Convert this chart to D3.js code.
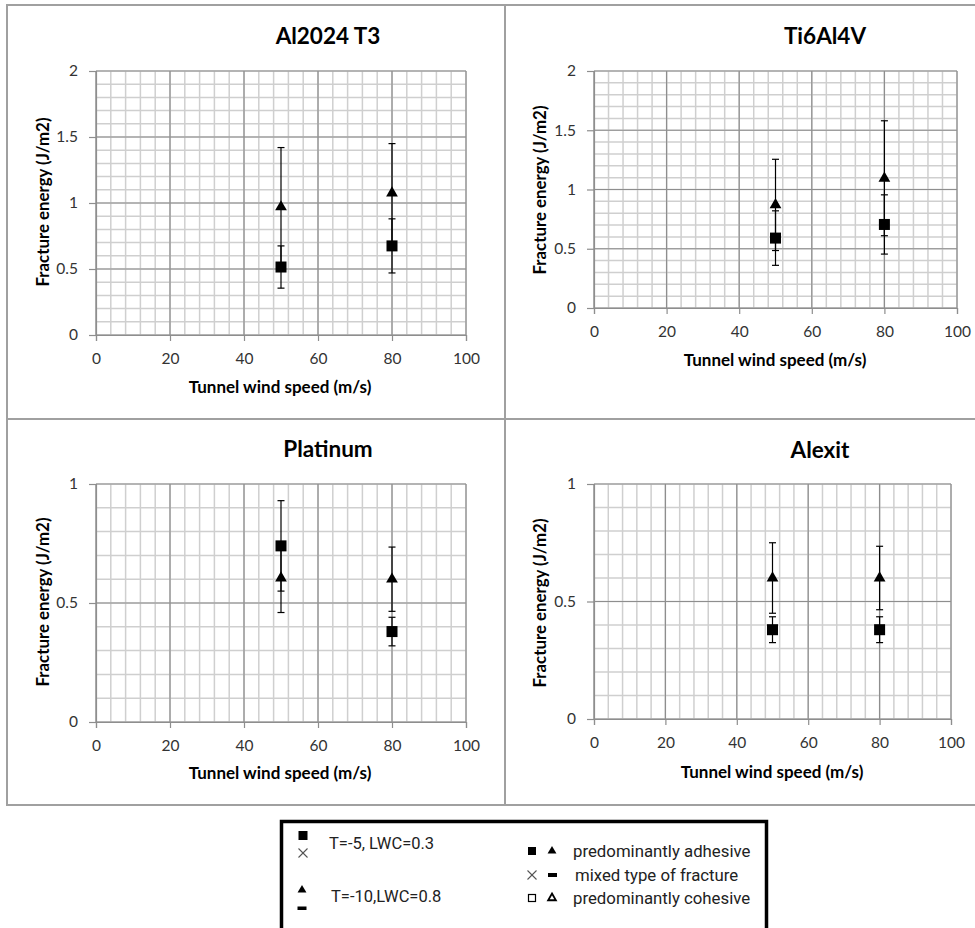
<!DOCTYPE html>
<html>
<head>
<meta charset="utf-8">
<script src="https://cdn.jsdelivr.net/npm/d3@7"></script>
<style>
  html, body { margin: 0; padding: 0; background: #fff; }
  svg { display: block; }
</style>
</head>
<body>
<svg id="chart" width="975" height="928"></svg>
<script>
// ---------------- DATA ----------------
const panelTitles = ["Al2024 T3", "Ti6Al4V", "Platinum", "Alexit"];
const windSpeeds = [50, 80];
// series 1: T=-5, LWC=0.3 (squares)
const squareValues = [[0.515, 0.675], [0.59, 0.705], [0.74, 0.38], [0.38, 0.38]];
const squareErrors = [[0.16, 0.205], [0.23, 0.25], [0.19, 0.06], [0.055, 0.055]];
// series 2: T=-10, LWC=0.8 (triangles)
const triangleValues = [[0.97, 1.075], [0.87, 1.095], [0.605, 0.60], [0.60, 0.60]];
const triangleErrors = [[0.45, 0.375], [0.385, 0.485], [0.145, 0.135], [0.15, 0.135]];
const yMaxima = [2, 2, 1, 1];
const xTickValues = [0, 20, 40, 60, 80, 100];
const yTickValuesTop = [0, 0.5, 1, 1.5, 2];
const yTickValuesBottom = [0, 0.5, 1];
const xAxisTitle = "Tunnel wind speed (m/s)";
const yAxisTitle = "Fracture energy (J/m2)";
const legendSeries = ["T=-5, LWC=0.3", "T=-10,LWC=0.8"];
const legendTypes = ["predominantly adhesive", "mixed type of fracture", "predominantly cohesive"];

// ---------------- LAYOUT ----------------
const layout = [
  { left: 96, right: 466, top: 71, bottom: 335, titleX: 328, titleY: 35, xTitleX: 280, xTitleY: 386, yTitleX: 43, yTitleY: 202 },
  { left: 594, right: 957, top: 71, bottom: 308, titleX: 825, titleY: 35, xTitleX: 775, xTitleY: 359, yTitleX: 540, yTitleY: 190 },
  { left: 96, right: 466, top: 484, bottom: 722, titleX: 328, titleY: 448, xTitleX: 280, xTitleY: 772, yTitleX: 43, yTitleY: 602 },
  { left: 594, right: 951, top: 484, bottom: 719, titleX: 820, titleY: 449, xTitleX: 772, xTitleY: 771, yTitleX: 540, yTitleY: 603 }
];
const FONT = "Lato, 'Open Sans', sans-serif";

const svg = d3.select("#chart");

// panel frame lines
const frame = svg.append("g").attr("stroke", "#a0a0a0").attr("stroke-width", 2).attr("fill", "none");
frame.append("rect").attr("x", 7).attr("y", 5).attr("width", 975).attr("height", 800);
frame.append("line").attr("x1", 7).attr("x2", 975).attr("y1", 419).attr("y2", 419);
frame.append("line").attr("x1", 505).attr("x2", 505).attr("y1", 5).attr("y2", 805);

const trianglePath = d3.symbol().type(d3.symbolTriangle).size(60)();

panelTitles.forEach((title, i) => {
  const L = layout[i];
  const x = d3.scaleLinear().domain([0, 100]).range([L.left, L.right]);
  const y = d3.scaleLinear().domain([0, yMaxima[i]]).range([L.bottom, L.top]);
  const yTicks = yMaxima[i] === 2 ? yTickValuesTop : yTickValuesBottom;
  const g = svg.append("g");

  // minor grid
  const minorX = d3.range(0, 101, 4);
  const minorY = d3.range(0, Math.round(yMaxima[i] * 10) + 1).map(k => k / 10);
  g.append("g").selectAll("line").data(minorX).join("line")
    .attr("x1", d => x(d)).attr("x2", d => x(d)).attr("y1", y(0)).attr("y2", y(yMaxima[i]))
    .attr("stroke", "#cfcfcf").attr("stroke-width", 1.5);
  g.append("g").selectAll("line").data(minorY).join("line")
    .attr("x1", x(0)).attr("x2", x(100)).attr("y1", d => y(d)).attr("y2", d => y(d))
    .attr("stroke", "#cfcfcf").attr("stroke-width", 1.5);
  // major grid
  g.append("g").selectAll("line").data(xTickValues).join("line")
    .attr("x1", d => x(d)).attr("x2", d => x(d)).attr("y1", y(0)).attr("y2", y(yMaxima[i]))
    .attr("stroke", "#8e8e8e").attr("stroke-width", 1.2);
  g.append("g").selectAll("line").data(yTicks).join("line")
    .attr("x1", x(0)).attr("x2", x(100)).attr("y1", d => y(d)).attr("y2", d => y(d))
    .attr("stroke", "#8e8e8e").attr("stroke-width", 1.2);

  // axes
  const xAxis = d3.axisBottom(x).tickValues(xTickValues).tickSize(6).tickPadding(12).tickFormat(d3.format("d"));
  const yAxis = d3.axisLeft(y).tickValues(yTicks).tickSize(7).tickPadding(11).tickFormat(d => String(d));
  const gx = g.append("g").attr("transform", `translate(0,${y(0)})`).call(xAxis);
  const gy = g.append("g").attr("transform", `translate(${x(0)},0)`).call(yAxis);
  [gx, gy].forEach(ax => {
    ax.select(".domain").attr("stroke", "#8e8e8e").attr("stroke-width", 1.2);
    ax.selectAll(".tick line").attr("stroke", "#8e8e8e").attr("stroke-width", 1.2);
    ax.selectAll(".tick text").attr("font-family", FONT).attr("font-size", 15.5).attr("fill", "#333");
  });

  // title
  g.append("text").attr("x", L.titleX).attr("y", L.titleY).attr("text-anchor", "middle")
    .attr("dominant-baseline", "central").attr("font-family", FONT).attr("font-weight", "bold")
    .attr("font-size", 22.5).attr("fill", "#000").text(title);
  // x axis title
  g.append("text").attr("x", L.xTitleX).attr("y", L.xTitleY).attr("text-anchor", "middle")
    .attr("dominant-baseline", "central").attr("font-family", FONT).attr("font-weight", "bold")
    .attr("font-size", 17).attr("fill", "#000").text(xAxisTitle);
  // y axis title
  g.append("text").attr("transform", `translate(${L.yTitleX},${L.yTitleY}) rotate(-90)`)
    .attr("text-anchor", "middle").attr("dominant-baseline", "central")
    .attr("font-family", FONT).attr("font-weight", "bold").attr("font-size", 16.5)
    .attr("textLength", 169).attr("lengthAdjust", "spacingAndGlyphs")
    .attr("fill", "#000").text(yAxisTitle);

  // error bars + markers
  const series = [
    { vals: squareValues[i], errs: squareErrors[i], shape: "square" },
    { vals: triangleValues[i], errs: triangleErrors[i], shape: "triangle" }
  ];
  series.forEach(s => {
    const pts = windSpeeds.map((w, k) => ({ w, v: s.vals[k], e: s.errs[k] }));
    const eb = g.append("g").attr("stroke", "#000").attr("stroke-width", 1.2);
    eb.selectAll("line.v").data(pts).join("line").attr("class", "v")
      .attr("x1", d => x(d.w)).attr("x2", d => x(d.w))
      .attr("y1", d => y(d.v - d.e)).attr("y2", d => y(d.v + d.e));
    eb.selectAll("line.cu").data(pts).join("line").attr("class", "cu")
      .attr("x1", d => x(d.w) - 3.5).attr("x2", d => x(d.w) + 3.5)
      .attr("y1", d => y(d.v + d.e)).attr("y2", d => y(d.v + d.e));
    eb.selectAll("line.cl").data(pts).join("line").attr("class", "cl")
      .attr("x1", d => x(d.w) - 3.5).attr("x2", d => x(d.w) + 3.5)
      .attr("y1", d => y(d.v - d.e)).attr("y2", d => y(d.v - d.e));
  });
  series.forEach(s => {
    const pts = windSpeeds.map((w, k) => ({ w, v: s.vals[k] }));
    if (s.shape === "square") {
      g.append("g").selectAll("rect").data(pts).join("rect")
        .attr("x", d => x(d.w) - 5.5).attr("y", d => y(d.v) - 5.5)
        .attr("width", 11).attr("height", 11).attr("fill", "#000");
    } else {
      g.append("g").selectAll("path").data(pts).join("path")
        .attr("d", trianglePath)
        .attr("transform", d => `translate(${x(d.w)},${y(d.v)})`)
        .attr("fill", "#000");
    }
  });
});

// ---------------- LEGEND ----------------
const lg = svg.append("g");
lg.append("rect").attr("x", 281.5).attr("y", 821.5).attr("width", 485).attr("height", 120)
  .attr("fill", "#fff").attr("stroke", "#000").attr("stroke-width", 3.5);
const LFONT = "Roboto, 'Noto Sans', sans-serif";
const smallTri = d3.symbol().type(d3.symbolTriangle).size(34)();

function cross(cx, cy) {
  const c = lg.append("g").attr("stroke", "#555").attr("stroke-width", 1.1);
  c.append("line").attr("x1", cx - 4.5).attr("x2", cx + 4.5).attr("y1", cy - 4.5).attr("y2", cy + 4.5);
  c.append("line").attr("x1", cx - 4.5).attr("x2", cx + 4.5).attr("y1", cy + 4.5).attr("y2", cy - 4.5);
}

// series keys (left)
lg.append("rect").attr("x", 298.5).attr("y", 831).attr("width", 9).attr("height", 9).attr("fill", "#000");
cross(303, 853);
lg.append("path").attr("d", smallTri).attr("transform", "translate(302,890)").attr("fill", "#000");
lg.append("rect").attr("x", 297.5).attr("y", 906.5).attr("width", 9).attr("height", 3.5).attr("fill", "#000");
lg.append("text").attr("x", 329).attr("y", 843).attr("dominant-baseline", "central")
  .attr("font-family", LFONT).attr("font-size", 16.5).attr("fill", "#222").text(legendSeries[0]);
lg.append("text").attr("x", 331).attr("y", 896).attr("dominant-baseline", "central")
  .attr("font-family", LFONT).attr("font-size", 16.5).attr("fill", "#222").text(legendSeries[1]);

// type keys (right)
const rowsY = [851, 875, 898];
lg.append("rect").attr("x", 528).attr("y", rowsY[0] - 4).attr("width", 8).attr("height", 8).attr("fill", "#000");
lg.append("path").attr("d", smallTri).attr("transform", `translate(552,${rowsY[0]})`).attr("fill", "#000");
cross(532, rowsY[1]);
lg.append("rect").attr("x", 548).attr("y", rowsY[1] - 2).attr("width", 9).attr("height", 4).attr("fill", "#000");
lg.append("rect").attr("x", 528.5).attr("y", rowsY[2] - 3.5).attr("width", 7).attr("height", 7)
  .attr("fill", "#fff").attr("stroke", "#000").attr("stroke-width", 1.2);
lg.append("path").attr("d", d3.symbol().type(d3.symbolTriangle).size(26)())
  .attr("transform", `translate(552,${rowsY[2]})`).attr("fill", "#fff").attr("stroke", "#000").attr("stroke-width", 1.8);
lg.selectAll("text.lt").data(legendTypes).join("text").attr("class", "lt")
  .attr("x", (d, k) => k === 1 ? 575 : 573).attr("y", (d, k) => rowsY[k]).attr("dominant-baseline", "central")
  .attr("font-family", LFONT).attr("font-size", 16.8).attr("fill", "#222").text(d => d);
</script>
</body>
</html>
